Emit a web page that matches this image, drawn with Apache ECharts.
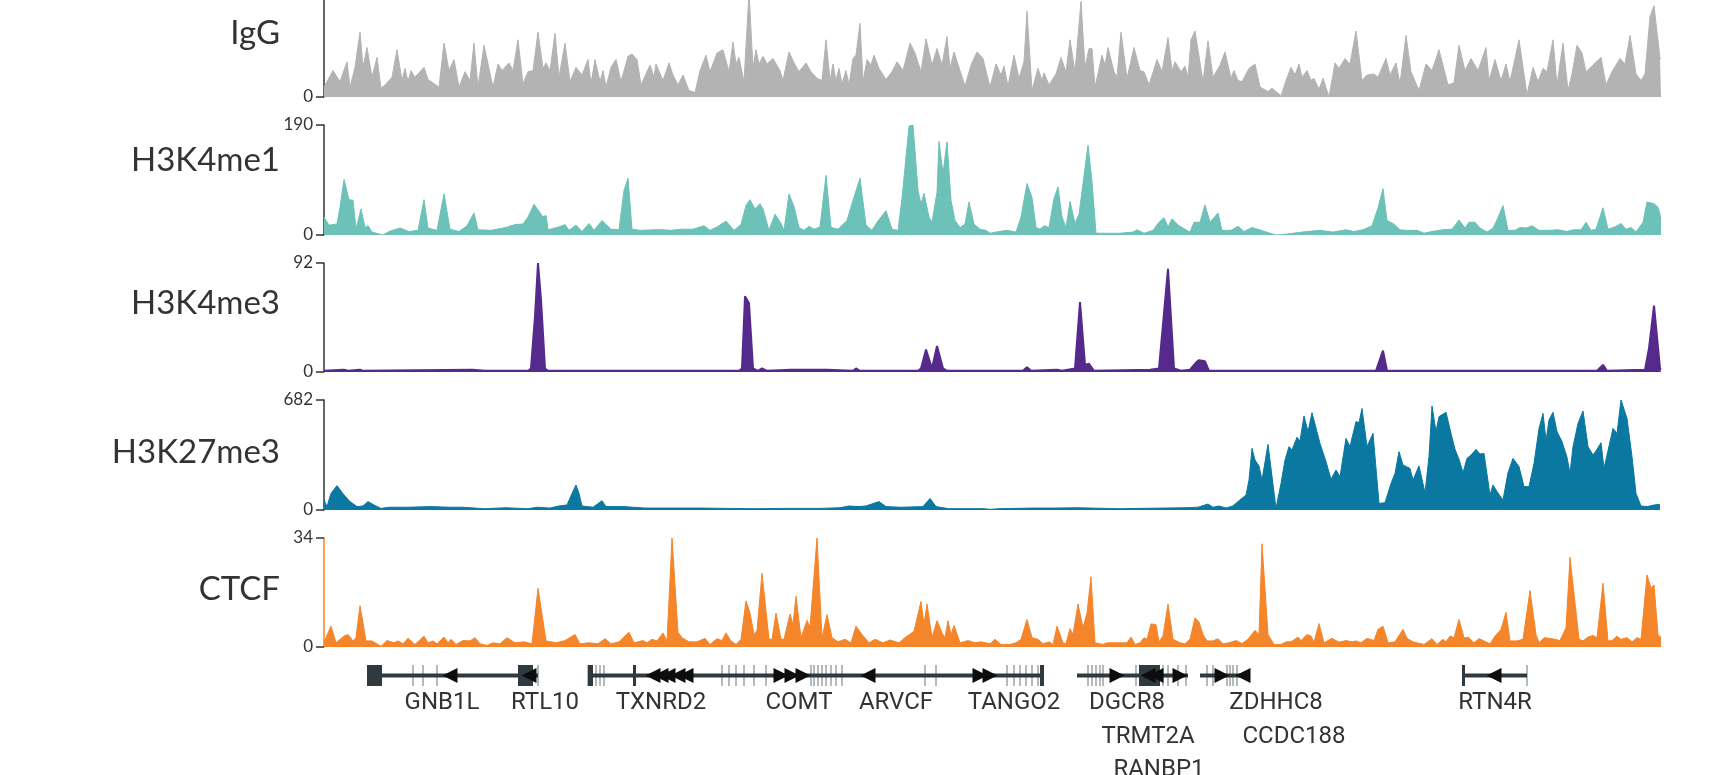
<!DOCTYPE html>
<html><head><meta charset="utf-8">
<script src="https://cdn.jsdelivr.net/npm/echarts@6/dist/echarts.min.js"></script>
<style>html,body{margin:0;padding:0;background:#fff}#c{width:1720px;height:775px}</style>
</head><body><div id="c"></div><script>
// ---------- DATA (positions along the region, signal values) ----------
const trackNames = ['IgG','H3K4me1','H3K4me3','H3K27me3','CTCF'];
const trackMax = [100,190,92,682,34];

const igPos = [0,9,16,23,26,31,36,39,43,48,53,57,61,68,73,78,81,84,87,91,100,104,115,120,125,130,135,141,146,150,154,160,169,174,178,185,189,194,199,204,209,214,219,222,226,231,235,241,246,252,258,264,267,271,276,279,282,287,292,297,304,308,313,317,326,330,332,339,345,349,354,359,365,371,376,382,386,393,399,405,409,412,415,420,425,429,432,435,439,443,449,456,459,465,470,475,482,487,493,498,502,506,509,512,515,518,522,525,529,532,536,539,543,547,550,555,562,568,573,579,586,591,597,602,608,613,618,623,626,630,636,641,647,653,659,
666,672,677,680,684,690,695,700,703,708,714,718,720,725,732,737,742,746,751,757,761,765,768,771,778,781,784,790,793,797,803,810,816,820,825,833,838,844,848,851,857,861,864,867,871,879,884,889,896,901,907,910,914,918,925,931,936,944,948,952,957,962,967,971,975,978,983,987,990,995,999,1005,1011,1015,1021,1026,1032,1038,1043,1050,1054,1062,1066,1072,1076,1082,1087,1095,1102,1108,1115,1124,1130,1135,1141,1147,1154,1162,1165,1171,1177,1182,1186,1195,1203,1209,1214,1219,1223,1229,1233,1239,1244,1248,1253,1258,1262,1269,1277,1282,1288,1296,1301,1306,1312,1317,1321,1326,1330,1336,1337];
const igVal = [9,24,14,32,9,27,59,27,45,18,36,8,11,18,43,15,26,14,24,18,27,16,9,49,24,34,9,23,15,49,9,47,9,30,24,31,24,52,12,23,24,59,26,31,24,58,18,49,14,27,20,34,12,34,14,24,9,27,34,14,37,39,34,11,29,18,30,15,31,20,11,20,6,4,24,38,23,40,43,23,50,30,36,14,95,27,43,30,37,30,35,24,15,41,31,23,31,23,17,15,52,15,30,15,26,12,24,11,35,38,67,14,34,29,38,26,16,23,32,24,49,40,23,53,29,44,29,55,26,41,24,10,29,41,35,
9,30,20,28,10,38,17,32,78,6,26,15,22,11,21,36,23,52,23,87,27,44,44,9,38,29,45,23,18,59,17,45,24,23,11,34,23,54,24,32,23,28,18,52,60,14,51,18,29,41,17,24,15,14,26,30,9,5,8,5,1,15,27,20,30,18,24,15,17,7,17,0,31,26,35,30,60,15,20,21,18,35,20,31,12,56,23,6,30,24,43,11,13,47,24,35,24,45,15,34,15,30,14,52,2,27,14,26,23,52,11,49,6,21,47,40,23,29,36,11,23,35,30,56,21,15,21,73,83,35,35];

const me1Pos = [0,5,13,16,20,25,29,32,37,41,44,48,59,65,76,85,94,100,104,113,120,126,135,143,150,154,167,182,191,199,204,210,219,222,224,235,241,245,252,258,265,270,278,287,295,300,304,308,317,330,339,347,356,369,380,386,393,402,410,417,422,426,431,436,439,445,451,457,460,465,470,475,480,485,490,496,502,507,514,523,529,536,542,548,553,562,568,574,578,585,589,594,597,600,605,608,613,615,619,623,627,631,636,641,645,650,656,662,
666,675,683,692,697,703,708,712,716,720,725,730,734,738,742,746,751,755,764,768,772,783,796,809,813,820,829,835,840,844,848,855,866,870,876,881,886,894,898,907,914,920,928,937,946,952,965,978,996,1009,1022,1030,1039,1048,1054,1059,1063,1069,1076,1082,1093,1100,1108,1119,1128,1135,1141,1145,1151,1156,1163,1169,1173,1179,1184,1191,1196,1202,1208,1215,1225,1234,1243,1249,1257,1262,1267,1272,1279,1284,1291,1297,1302,1307,1312,1319,1323,1330,1334,1337];
const me1Val = [31,17,19,48,96,61,60,10,45,13,16,5,0,6,12,6,8,61,12,8,71,10,6,16,38,9,8,13,18,19,31,53,31,34,9,14,18,8,17,6,20,8,25,10,9,77,98,10,8,9,9,8,10,10,16,8,14,24,8,18,51,61,45,54,45,8,36,20,8,71,49,13,8,15,10,14,103,13,10,25,60,98,17,8,22,42,10,8,63,188,190,77,54,72,31,22,74,162,106,161,60,25,13,19,57,19,10,8,
3,6,8,5,31,89,65,13,10,16,13,63,83,31,13,58,20,36,155,92,3,3,3,5,9,3,8,22,30,14,28,16,5,22,22,52,22,38,8,8,15,6,13,8,3,0,2,5,8,5,9,6,9,16,47,80,25,20,9,8,8,3,6,9,10,26,12,22,22,12,5,12,26,51,8,8,13,12,16,8,8,9,6,9,9,22,8,10,47,10,14,20,10,13,5,22,57,54,48,28];

const me3Pos = [0,20,24,36,39,148,161,204,207,211,214,217,221,224,415,418,421,425,429,434,438,443,467,503,529,532,536,594,597,602,608,613,619,623,
666,699,703,707,733,738,751,756,761,765,770,826,835,844,850,857,866,872,875,881,885,1052,1059,1063,1273,1279,1283,1321,1325,1330,1336,1337];
const me3Val = [1,2,1,2,1,2,1,1,3,47,92,61,3,1,1,3,64,58,3,1,3,1,2,2,1,3,1,1,3,19,3,22,3,1,
1,1,4,1,2,1,3,59,6,7,1,2,3,87,3,1,2,8,10,9,1,1,18,1,1,6,1,2,20,56,3,2];

const k27Pos = [0,3,7,13,20,26,33,39,44,50,57,65,83,107,126,139,161,182,204,213,226,235,243,248,252,255,258,269,278,282,300,321,343,378,404,430,464,495,516,525,534,542,555,562,577,599,606,612,625,660,
666,675,709,731,753,796,839,861,874,884,889,895,902,909,915,922,925,928,931,935,938,944,948,952,957,961,965,968,973,976,980,984,988,996,1002,1007,1012,1016,1022,1026,1032,1035,1038,1043,1049,1055,1061,1067,1071,1075,1079,1086,1089,1095,1101,1105,1108,1112,1115,1122,1127,1131,1135,1139,1143,1147,1152,1156,1160,1166,1169,1173,1179,1184,1189,1195,1200,1205,1210,1215,1219,1222,1225,1229,1233,1238,1243,1246,1249,1254,1259,1261,1264,1269,1273,1277,1280,1283,1289,1293,1297,1303,1308,1312,1317,1323,1330,1336];
const k27Val = [62,21,103,151,93,52,21,25,52,31,10,17,17,21,17,17,8,14,8,17,12,25,31,103,155,103,25,17,58,21,21,12,12,12,10,8,10,10,14,25,21,25,52,21,17,21,72,21,8,8,
4,8,12,12,14,8,12,14,17,37,17,25,12,25,58,93,186,382,310,273,186,407,207,10,165,310,393,372,451,428,583,486,603,413,300,190,248,207,444,393,548,541,630,393,475,41,45,165,227,362,279,258,186,273,107,331,645,486,579,606,475,376,314,231,320,341,376,347,351,93,155,114,62,231,320,269,145,145,289,506,599,430,558,606,486,424,327,227,393,537,614,610,393,341,376,417,258,341,506,475,682,568,331,103,25,21,31,35];

const ctcfPos = [0,7,12,20,24,29,32,36,42,48,57,63,70,74,79,84,91,100,104,109,113,120,124,127,132,139,146,151,156,163,169,176,183,191,200,208,214,222,232,241,251,256,265,274,281,287,295,305,310,319,323,328,333,339,343,348,354,358,365,373,381,386,393,398,402,407,412,417,422,426,430,433,438,445,448,452,457,460,466,469,472,477,483,486,493,498,503,508,514,521,527,532,538,545,551,559,566,575,581,590,597,600,603,608,613,618,621,624,627,630,636,644,651,657,
666,671,677,686,692,697,703,708,714,719,725,729,733,739,742,746,749,754,759,763,767,771,779,783,796,803,807,811,816,820,823,827,832,835,839,844,849,856,861,866,871,875,879,883,889,894,899,905,912,918,924,931,935,938,944,950,957,962,967,974,977,983,987,990,995,1000,1008,1015,1022,1028,1032,1037,1043,1050,1054,1059,1064,1071,1079,1083,1089,1093,1100,1108,1113,1119,1122,1126,1130,1135,1140,1145,1150,1155,1160,1166,1171,1177,1182,1186,1193,1199,1206,1212,1215,1220,1228,1236,1242,1246,1255,1259,1264,1269,1273,1279,1284,1288,1293,1297,1303,1308,1313,1317,1323,1327,1330,1334,1337];
const ctcfVal = [1.5,6.5,1.3,3.4,3.9,1.9,2.9,12.9,1.9,1.9,0.2,2,1.3,1.9,1,2.7,0.8,3.4,1.3,1.9,1,3.1,1.3,2.4,0.8,2,1.9,2.9,1,0.5,1.3,1,2.9,1.3,1.6,1,18.3,1.9,1.3,2,3.9,1,1.3,1,2.6,1,1.6,4.6,1.3,2,1.3,2.4,1.9,4.4,1.9,34,4.6,2.9,1.6,1.6,2.7,0.8,2.6,2,4.4,1.9,0.8,2.4,14.4,10.6,3.9,5.2,23,2.4,2.4,10.6,2.4,2.4,10.3,7,15.8,2.9,8.3,6.2,34,2.9,10.1,2.9,1.6,2.4,1.3,6.5,3.9,1.3,2.4,1.3,2.2,1.3,2.9,4.9,14.2,7,13.4,2.9,8.2,4.4,2.9,8.2,3.9,6.7,1.3,2,1.3,1.6,
1,2.4,0.8,0.8,1.3,2.4,8.6,2.9,2.4,1,1.6,0.8,6.5,1.3,1,5.7,3.9,13.4,6,10.6,21.9,1.3,0.8,1.3,1.3,1.3,3.1,0.8,1.3,2.9,2.4,7.2,7,1.6,3.4,13.4,2.4,1.3,1,2.4,9.1,7.8,3.9,1.9,1.9,2.6,1,1.3,2,1.1,2.4,5.2,3.9,32.2,3.9,0.8,0.8,1.6,1.6,3.1,2,3.9,3.4,1.5,7.3,1.3,2.7,1.5,2,1.6,1.9,1.3,2.7,2,5.5,6.5,1.3,1.6,5.5,2.7,1.6,1.3,0.8,2.6,0.8,2.4,1.6,3.4,2.9,8.6,2.9,2.9,1.3,2.6,1.9,1,3.4,5.5,10.8,1.9,1.9,2.4,17.6,3.9,1.3,2.9,2.6,2,6,27.9,2.4,1.9,3.1,3.6,2.9,19.9,1.9,2,3.4,2.4,2.9,1.6,2.9,2.4,22.5,18.3,19.4,3.9,2.9];

// gene annotation
const geneSpans = [[44,214],[264,720],[753,864],[876,924],[1139,1203]];
const exonBlocks = [[43,58],[194,209],[264,269],[309,312],[716,720],[1138,1141],[815,836]];
const exonTicks = [89,99,113,214,264,267,272,276,280,398,405,412,420,430,442,487,490,494,498,502,507,512,518,601,612,683,690,696,702,708,714,764,768,772,776,779,812,839,844,854,862,883,889,903,906,909,913,1203];
const arrowLeft = [126,205,329,337,344,354,362,544,824,832,919,1170];
const arrowRight = [457,468,479,656,666,793,856,898];
const geneNames = ['GNB1L','RTL10','TXNRD2','COMT','ARVCF','TANGO2','DGCR8','TRMT2A','RANBP1','ZDHHC8','CCDC188','RTN4R'];
const geneLabelPos = [118,221,337,475,572,690,803,824,835,952,970,1171];
const geneLabelRow = [0,0,0,0,0,0,0,1,2,0,1,0];

// ---------- STYLE / LAYOUT ----------
const trackColors = ['#b3b3b3','#6cc1b8','#562a8c','#0a78a0','#f5852a'];
// full track boxes; the IgG box starts 13px above the page top (cropped)
const trackTops = [-13,125,263,400,538];
const trackHeights = [110,110,109,110,109];
const labelCenters = [33,160,303,452,589];
const PLOT_LEFT = 324, PLOT_RIGHT = 59, XMAX = 1337;
const ink = '#333';
const geneInk = '#2f3a40';

const posArr = [igPos, me1Pos, me3Pos, k27Pos, ctcfPos];
const valArr = [igVal, me1Val, me3Val, k27Val, ctcfVal];
const zip = (a,b) => a.map((x,i)=>[x,b[i]]);

const grids = [], xAxes = [], yAxes = [], series = [];
for (let i=0;i<5;i++){
  // crop tracks that begin above the page: keep the value scale, show only the visible part
  let top = trackTops[i], height = trackHeights[i], max = trackMax[i];
  const cropped = top < 0;
  if (cropped) { const visible = height + top; max = trackMax[i] * visible / height; height = visible; top = 0; }
  grids.push({left:PLOT_LEFT, right:PLOT_RIGHT, top:top, height:height});
  xAxes.push({type:'value', gridIndex:i, min:0, max:XMAX, show:false});
  const fullMax = trackMax[i];
  const shown = cropped ? [0] : [0, fullMax];
  yAxes.push({type:'value', gridIndex:i, min:0, max:max,
    axisLine:{show:true, lineStyle:{color: i===4 ? trackColors[4] : ink, width:1.5}},
    axisTick:{show:true, length:8, customValues:shown, lineStyle:{color:ink, width:1.5}},
    axisLabel:{margin:11, fontFamily:'Lato', fontSize:17, color:ink, customValues:shown},
    splitLine:{show:false}});
  series.push({type:'line', xAxisIndex:i, yAxisIndex:i, data:zip(posArr[i], valArr[i]),
    showSymbol:false, symbol:'none', smooth:false,
    lineStyle:{color:trackColors[i], width: i===2 ? 2 : 1},
    areaStyle:{color:trackColors[i], opacity:1}, silent:true});
}
// gene track
grids.push({left:PLOT_LEFT, right:PLOT_RIGHT, top:665, height:21});
xAxes.push({type:'value', gridIndex:5, min:0, max:XMAX, show:false});
yAxes.push({type:'value', gridIndex:5, min:0, max:1, show:false});

series.push({type:'custom', xAxisIndex:5, yAxisIndex:5, clip:false, silent:true,
  data: geneSpans,
  renderItem:(p,api)=>{
    const a=api.coord([api.value(0),0.5]), b=api.coord([api.value(1),0.5]);
    return {type:'rect', shape:{x:a[0], y:a[1]-2, width:b[0]-a[0], height:4}, style:{fill:geneInk}};
  }});
series.push({type:'custom', xAxisIndex:5, yAxisIndex:5, clip:false, silent:true,
  data: exonTicks.map(x=>[x]),
  renderItem:(p,api)=>{
    const t=api.coord([api.value(0),1]), b=api.coord([api.value(0),0]);
    return {type:'rect', shape:{x:t[0]-1, y:t[1], width:2, height:b[1]-t[1]}, style:{fill:'rgba(47,58,64,0.35)'}};
  }});
series.push({type:'custom', xAxisIndex:5, yAxisIndex:5, clip:false, silent:true,
  data: exonBlocks,
  renderItem:(p,api)=>{
    const t=api.coord([api.value(0),1]), b=api.coord([api.value(1),0]);
    return {type:'rect', shape:{x:t[0], y:t[1], width:Math.max(2,b[0]-t[0]), height:b[1]-t[1]}, style:{fill:geneInk}};
  }});
const arrowData = arrowLeft.map(x=>[x,-1]).concat(arrowRight.map(x=>[x,1]));
series.push({type:'custom', xAxisIndex:5, yAxisIndex:5, clip:false, silent:true,
  data: arrowData,
  renderItem:(p,api)=>{
    const c=api.coord([api.value(0),0.5]); const d=api.value(1);
    const h=7.5, w=7.5;
    const pts = d<0 ? [[c[0]-w,c[1]],[c[0]+w,c[1]-h],[c[0]+w,c[1]+h]]
                    : [[c[0]+w,c[1]],[c[0]-w,c[1]-h],[c[0]-w,c[1]+h]];
    return {type:'polygon', shape:{points:pts}, style:{fill:'#0d0d0d'}};
  }});
series.push({type:'custom', xAxisIndex:5, yAxisIndex:5, clip:false, silent:true,
  data: geneNames.map((n,i)=>[geneLabelPos[i], geneLabelRow[i]]),
  renderItem:(p,api)=>{
    const c=api.coord([api.value(0),0]);
    const y=c[1]+17+api.value(1)*33.5;
    return {type:'text', x:c[0], y:y, style:{text:geneNames[p.dataIndex], font:'24px Roboto', fill:ink,
      textAlign:'center', align:'center', textVerticalAlign:'middle', verticalAlign:'middle'}};
  }});

const graphics = trackNames.map((n,i)=>({type:'text', x:280, y:labelCenters[i], silent:true,
  style:{text:n, font:'33px Lato', fill:ink, textAlign:'right', align:'right', textVerticalAlign:'middle', verticalAlign:'middle'}}));

const chart = echarts.init(document.getElementById('c'), null, {renderer:'canvas'});
chart.setOption({animation:false, backgroundColor:'#fff', grid:grids, xAxis:xAxes, yAxis:yAxes, series:series, graphic:graphics});
</script></body></html>
